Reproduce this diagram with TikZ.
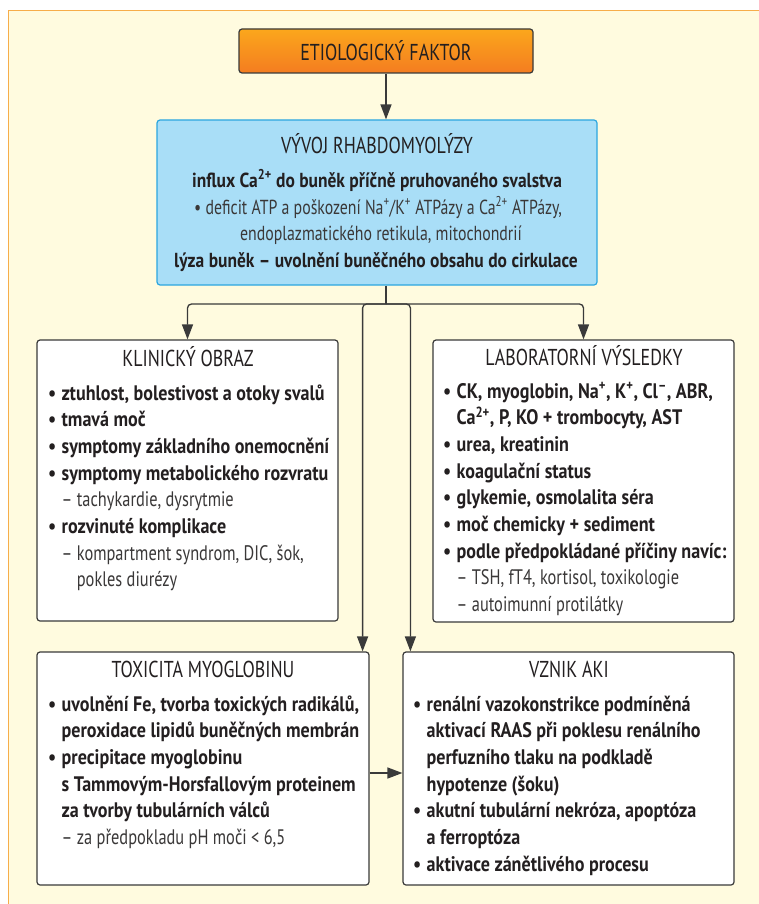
\documentclass[tikz,border=0pt]{standalone}
\usepackage{fontspec}
\setmainfont{PT Sans}[FakeStretch=0.78, BoldFeatures={FakeStretch=0.86}]
\usetikzlibrary{arrows.meta}
\definecolor{cream}{HTML}{FFFBDF}
\definecolor{frameor}{HTML}{F7AD4A}
\definecolor{ink}{HTML}{231F20}
\definecolor{inklt}{HTML}{3A3838}
\definecolor{bluefill}{HTML}{A9DEF7}
\definecolor{blueline}{HTML}{2CA6DF}
\definecolor{ortop}{HTML}{FBA71C}
\definecolor{orbot}{HTML}{F47C20}
\definecolor{lineclr}{HTML}{3A3A3A}
\newcommand{\bul}{\makebox[13.5pt][l]{•}}
\newcommand{\ind}{\hspace*{13.5pt}}
\newcommand{\lt}[1]{{\mdseries\color{inklt}#1}}
\newcommand{\fs}{\fontsize{21}{26.7}\selectfont}
\newcommand{\fb}{\fontsize{20.3}{26.5}\selectfont}
\newcommand{\ft}{\fontsize{23}{27}\selectfont}
\newcommand{\lines}[1]{\begin{tabular}[t]{@{}l@{}}#1\end{tabular}}
\tikzset{
  wbox/.style={draw=lineclr, line width=1.2pt, fill=white, rounded corners=3pt, inner sep=0pt},
  conn/.style={draw=lineclr, line width=1.3pt, rounded corners=4pt},
  tip/.style={-{Triangle[width=11pt,length=15pt]}},
  ttl/.style={anchor=base, font=\ft, text=ink, inner sep=0pt},
  bline/.style={anchor=base, font=\fb, text=inklt, inner sep=0pt},
  lst/.style={anchor=base west, font=\fs\bfseries, text=ink, inner sep=0pt},
}
\begin{document}
\begin{tikzpicture}[x=1pt,y=-1pt]
\useasboundingbox (0,0) rectangle (759,904);
\clip (0,0) rectangle (759,904);
\fill[cream] (8,11) rectangle (780,920);
\draw[frameor, line width=1pt] (8,920) -- (8,11) -- (780,11);

% top box
\node[draw=lineclr, line width=1.2pt, rounded corners=3pt, top color=ortop, bottom color=orbot,
      minimum width=294pt, minimum height=44pt, inner sep=0pt, font=\ft, text=ink]
      (etio) at (386,51) {ETIOLOGICKÝ FAKTOR};

% blue box
\node[draw=blueline, line width=1.2pt, fill=bluefill, rounded corners=3pt,
      minimum width=440pt, minimum height=165pt, inner sep=0pt] (vyv) at (377,202.5) {};
\node[ttl] (vyvT) at (377,154) {VÝVOJ RHABDOMYOLÝZY};
\node[bline, font=\fb\bfseries, text=ink] (vyv1) at (377,187) {influx Ca\textsuperscript{2+} do buněk příčně pruhovaného svalstva};
\node[bline] (vyv2) at (378,214) {• deficit ATP a poškození Na\textsuperscript{+}/K\textsuperscript{+} ATPázy a Ca\textsuperscript{2+} ATPázy,};
\node[bline] (vyv3) at (381,240.5) {endoplazmatického retikula, mitochondrií};
\node[bline, font=\fb\bfseries, text=ink] (vyv4) at (376,267) {lýza buněk – uvolnění buněčného obsahu do cirkulace};

% four boxes
\node[wbox, minimum width=301pt, minimum height=281pt] (klin) at (187.5,480.5) {};
\node[wbox, minimum width=301pt, minimum height=282pt] (lab) at (583.5,481) {};
\node[wbox, minimum width=332pt, minimum height=233pt] (tox) at (203,768.5) {};
\node[wbox, minimum width=331pt, minimum height=233pt] (aki) at (568.5,768.5) {};

\node[ttl] (klinT) at (188,366) {KLINICKÝ OBRAZ};
\node[lst] (klinL) at (48,400) {\lines{\bul ztuhlost, bolestivost a otoky svalů\\
\bul tmavá moč\\
\bul symptomy základního onemocnění\\
\bul symptomy metabolického rozvratu\\
\ind\lt{– tachykardie, dysrytmie}\\
\bul rozvinuté komplikace\\
\ind\lt{– kompartment syndrom, DIC, šok,}\\
\ind\lt{\phantom{– }pokles diurézy}}};

\node[ttl] (labT) at (584,365) {LABORATORNÍ VÝSLEDKY};
\node[lst] (labL) at (443,398) {\lines{\bul CK, myoglobin, Na\textsuperscript{+}, K\textsuperscript{+}, Cl\textsuperscript{–}, ABR,\\
\ind Ca\textsuperscript{2+}, P, KO + trombocyty, AST\\
\bul urea, kreatinin\\
\bul koagulační status\\
\bul glykemie, osmolalita séra\\
\bul moč chemicky + sediment\\
\bul podle předpokládané příčiny navíc:\\
\ind\lt{– TSH, fT4, kortisol, toxikologie}\\
\ind\lt{– autoimunní protilátky}}};

\node[ttl] (toxT) at (203,677) {TOXICITA MYOGLOBINU};
\node[lst] (toxL) at (48,711) {\lines{\bul uvolnění Fe, tvorba toxických radikálů,\\
\ind peroxidace lipidů buněčných membrán\\
\bul precipitace myoglobinu\\
\ind s Tammovým-Horsfallovým proteinem\\
\ind za tvorby tubulárních válců\\
\ind\lt{– za předpokladu pH moči < 6,5}}};

\node[ttl] (akiT) at (569,677) {VZNIK AKI};
\node[lst] (akiL) at (413,711) {\lines{\bul renální vazokonstrikce podmíněná\\
\ind aktivací RAAS při poklesu renálního\\
\ind perfuzního tlaku na podkladě\\
\ind hypotenze (šoku)\\
\bul akutní tubulární nekróza, apoptóza\\
\ind a ferroptóza\\
\bul aktivace zánětlivého procesu}};

% connectors
\coordinate (J) at (386,304);
\draw[conn, tip] (etio.south) -- (etio.south |- vyv.north);
\draw[conn] (etio.south |- vyv.south) -- (J);
\draw[conn, tip] (J) -| (klin.north);
\draw[conn, tip] (J) -| (lab.north);
\draw[conn, tip] (J) -| ([xshift=-7pt]tox.north east);
\draw[conn, tip] (J) -| ([xshift=8pt]aki.north west);
\draw[conn, tip] ([yshift=-4.5pt]tox.east) -- ([yshift=-4.5pt]aki.west);
\end{tikzpicture}
\end{document}
